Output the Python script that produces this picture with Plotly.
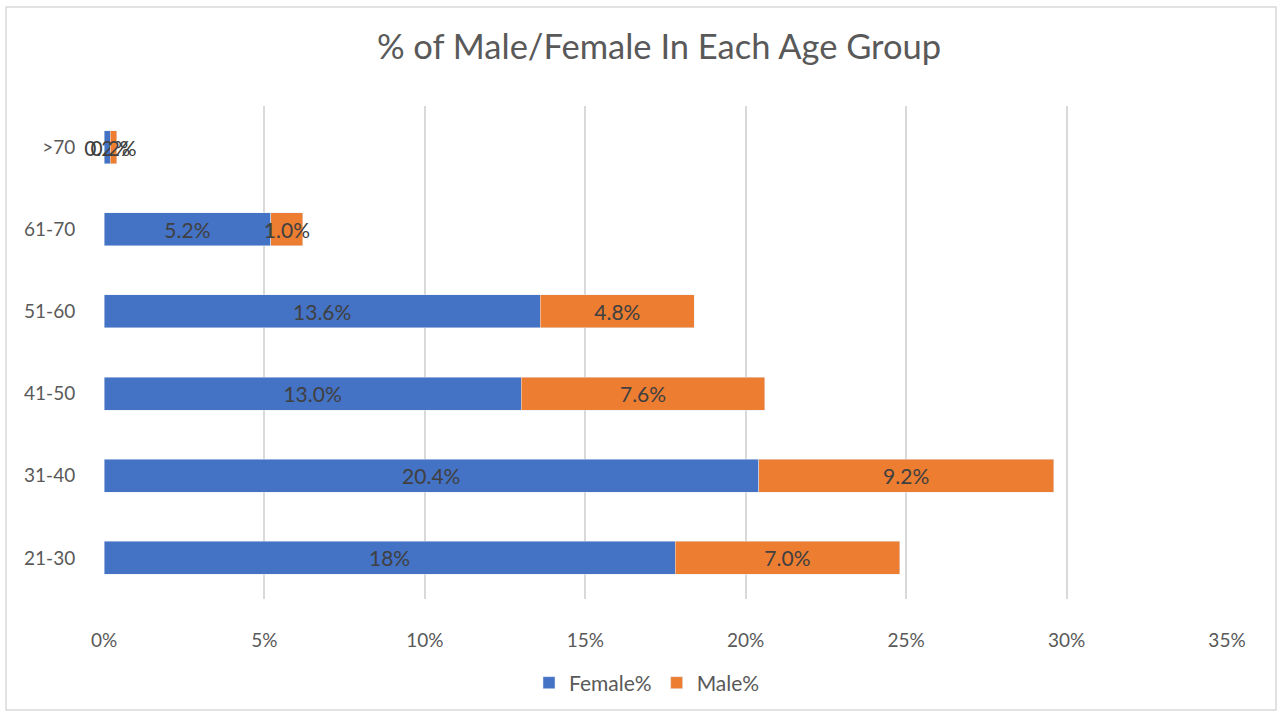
import plotly.graph_objects as go

age_groups = ["21-30", "31-40", "41-50", "51-60", "61-70", ">70"]
female_pct = [17.8, 20.4, 13.0, 13.6, 5.2, 0.2]
male_pct = [7.0, 9.2, 7.6, 4.8, 1.0, 0.2]
female_labels = ["18%", "20.4%", "13.0%", "13.6%", "5.2%", "0.2%"]
male_labels = ["7.0%", "9.2%", "7.6%", "4.8%", "1.0%", "0.2%"]
x_ticks = [0, 5, 10, 15, 20, 25, 30, 35]

FONT = "Lato, Noto Sans, sans-serif"
LABEL_SIZE = 21

fig = go.Figure()
for name, vals, labels, color in [("Female%", female_pct, female_labels, "#4472C4"),
                                  ("Male%", male_pct, male_labels, "#ED7D31")]:
    fig.add_trace(go.Bar(
        y=age_groups, x=vals, orientation="h", name=name,
        marker_color=color, text=labels, textposition="inside", textangle=0,
        insidetextanchor="middle", constraintext="none",
        textfont=dict(color="#404040", size=LABEL_SIZE, family=FONT),
        cliponaxis=False,
    ))

W, H = 1282, 717
L, R, T, B = 104, 55, 106, 118
pw, ph = W - L - R, H - T - B

def px(x):
    return (x - L) / pw

def py(y):
    return (H - B - y) / ph

fig.update_layout(
    width=W, height=H,
    barmode="stack", bargap=0.6,
    margin=dict(l=L, r=R, t=T, b=B, autoexpand=False),
    paper_bgcolor="white", plot_bgcolor="white",
    font=dict(family=FONT, color="#595959", size=19),
    uniformtext=dict(minsize=LABEL_SIZE, mode="show"),
    title=dict(text="% of Male/Female In Each Age Group", x=659 / W, xanchor="center",
               y=1 - 47 / H, yanchor="middle",
               font=dict(size=34.5, color="#595959", family=FONT)),
    xaxis=dict(range=[0, 35], tickvals=x_ticks,
               ticktext=[f"{v}%" for v in x_ticks],
               showgrid=True, gridcolor="#d9d9d9", gridwidth=1.5,
               zeroline=False, showline=False, automargin=False,
               ticks="outside", ticklen=24, tickcolor="rgba(0,0,0,0)",
               tickfont=dict(size=19, color="#595959"), fixedrange=True),
    yaxis=dict(showgrid=False, zeroline=False, showline=False, automargin=False,
               ticks="outside", ticklen=24, tickcolor="rgba(0,0,0,0)",
               tickfont=dict(size=19, color="#595959"),
               categoryorder="array", categoryarray=age_groups),
    legend=dict(orientation="h", x=px(647), xanchor="center",
                y=py(683), yanchor="middle",
                font=dict(size=21, color="#595959"), traceorder="normal"),
    showlegend=True,
    shapes=[dict(type="rect", xref="paper", yref="paper",
                 x0=px(6), x1=px(1276), y0=py(710), y1=py(7),
                 line=dict(color="#d9d9d9", width=1.5), layer="below")],
)

fig.write_html("out.html", config={"displayModeBar": False},
               post_script="document.body.style.margin='0';document.body.style.overflow='hidden';")
